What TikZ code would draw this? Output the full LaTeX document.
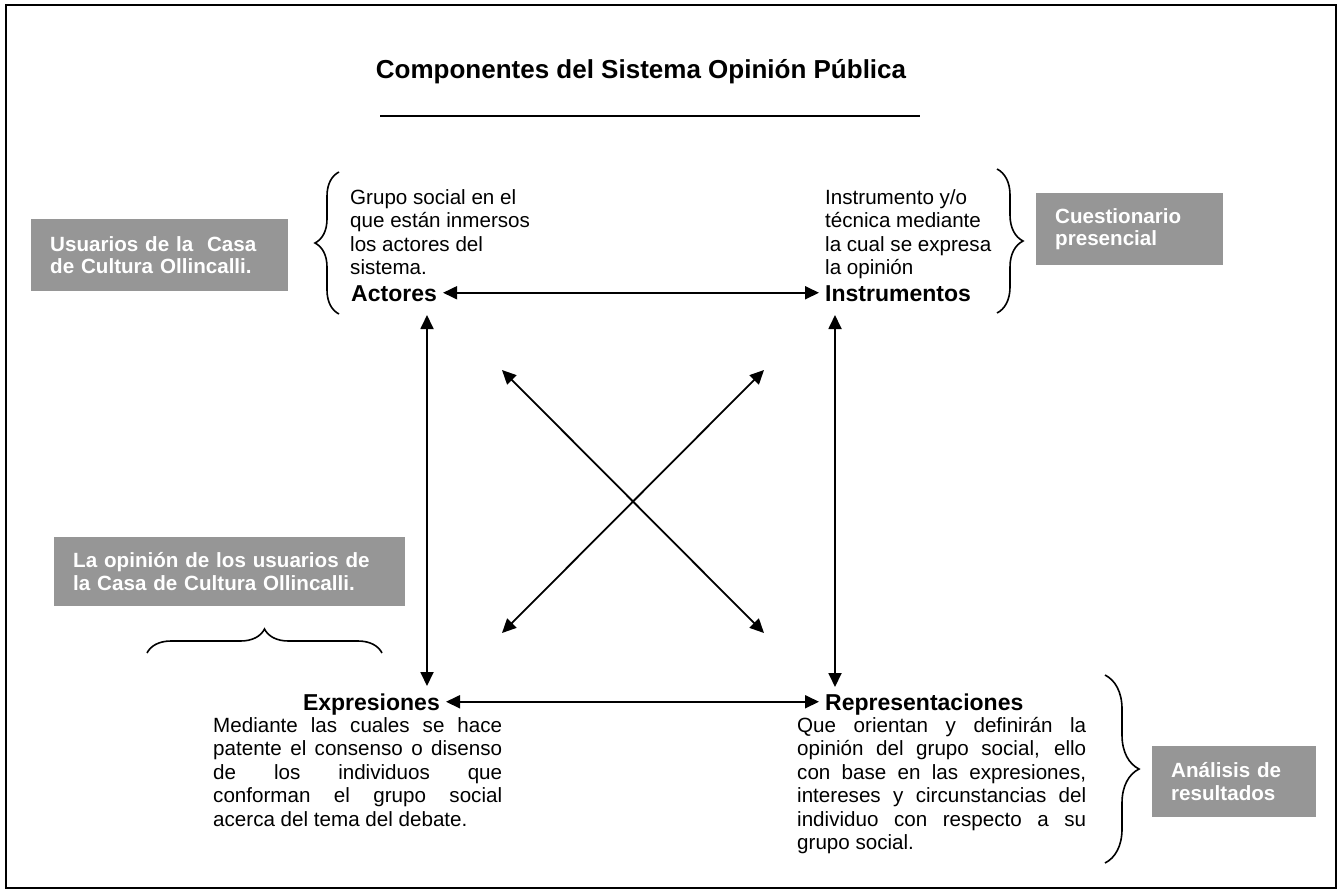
\documentclass[tikz,border=0pt]{standalone}
\usepackage{fontspec}
\setmainfont{Liberation Sans}
\usetikzlibrary{arrows.meta,decorations.pathreplacing}
\definecolor{boxgray}{RGB}{150,150,150}
\hyphenpenalty=10000
\tolerance=10000
\hbadness=10000

\begin{document}
\begin{tikzpicture}[x=1pt,y=-1pt,
  dar/.style={{Triangle[length=14pt,width=13pt]}-{Triangle[length=14pt,width=13pt]},line width=1.8pt},
  head/.style={font=\fontsize{23}{26}\selectfont\bfseries,inner xsep=6pt,inner ysep=0pt,text height=16.5pt,text depth=0pt},
  desc/.style={font=\fontsize{20.6}{23.5}\selectfont,inner sep=0pt,align=left,anchor=north west},
  just/.style={desc,text width=289pt,align=justify},
  gbox/.style={fill=boxgray,text=white,font=\fontsize{20.6}{22.5}\selectfont\bfseries,align=left,inner xsep=19pt,anchor=north west},
  brc/.style={decorate,decoration={brace,amplitude=#1},line width=1.6pt}
]
\useasboundingbox (0,0) rectangle (1341,892);
\draw[line width=2pt] (6,5) rectangle (1336,888);

\node[font=\fontsize{26}{30}\selectfont\bfseries,anchor=base] (title) at (641,78) {Componentes del Sistema Opinión Pública};
\draw[line width=1.5pt] (380,116) -- (920,116);

% the four components
\node[head,anchor=base west] (act) at (345,301) {Actores};
\node[head,anchor=base west] (ins) at (819,301) {Instrumentos};
\node[head,anchor=base east] (exp) at (446,710) {Expresiones};
\node[head,anchor=base west] (rep) at (819,710) {Representaciones};

\node[desc] (actd) at (350,189) {Grupo social en el\\que están inmersos\\los actores del\\sistema.};
\node[desc] (insd) at (825,189) {Instrumento y/o\\técnica mediante\\la cual se expresa\\la opinión};
\node[just] (expd) at (213,717) {Mediante las cuales se hace\linebreak patente el consenso o disenso\linebreak de los individuos que\linebreak conforman el grupo social\linebreak acerca del tema del debate.};
\node[just] (repd) at (797,717) {Que orientan y definirán la\linebreak opinión del grupo social, ello\linebreak con base en las expresiones,\linebreak intereses y circunstancias del\linebreak individuo con respecto a su\linebreak grupo social.};

% gray notes
\node[gbox,text width=219pt,minimum height=72pt] (usu) at (31,219) {Usuarios de la\ \ Casa\\de Cultura Ollincalli.};
\node[gbox,text width=149pt,minimum height=72pt] (cue) at (1036,193) {Cuestionario\\presencial};
\node[gbox,text width=313pt,minimum height=69pt] (opi) at (54,537) {La opinión de los usuarios de\\la Casa de Cultura Ollincalli.};
\node[gbox,text width=126pt,minimum height=71pt] (ana) at (1152,746) {Análisis de\\resultados};

% braces
\draw[brc=24pt] (339,314) -- (339,172);
\draw[brc=26pt] (997,169) -- (997,313);
\draw[brc=24pt] (147,653) -- (382,653);
\draw[brc=34pt] (1105,675) -- (1105,863);

% arrows
\coordinate (actb) at (427,315);
\coordinate (expt) at (427,686);
\coordinate (insb) at (835,315);
\coordinate (rept) at (835,687);
\coordinate (d1) at (502,370);
\coordinate (d2) at (764,633);
\coordinate (d3) at (764,370);
\coordinate (d4) at (502,633);
\draw[dar] (act) -- (ins);
\draw[dar] (exp) -- (rep);
\draw[dar] (actb) -- (expt);
\draw[dar] (insb) -- (rept);
\draw[dar] (d1) -- (d2);
\draw[dar] (d3) -- (d4);
\end{tikzpicture}
\end{document}
